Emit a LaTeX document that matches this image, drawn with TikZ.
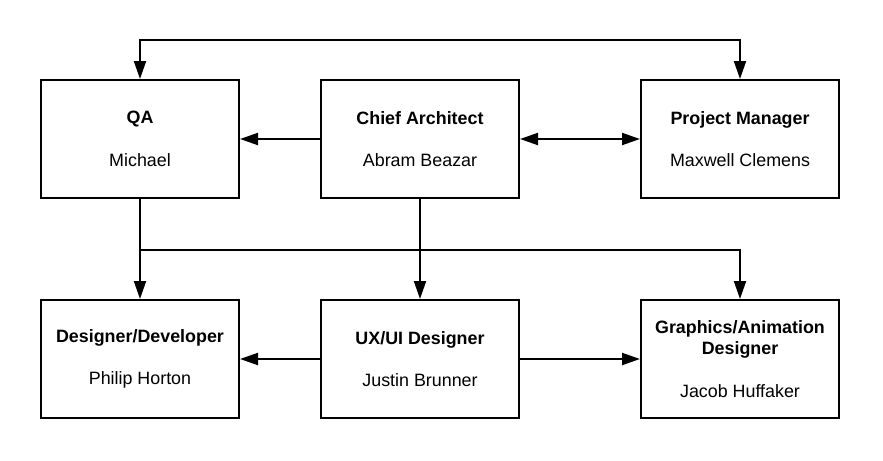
\documentclass[tikz,border=0pt]{standalone}
\usepackage{fontspec}
\setmainfont{Liberation Sans}
\usetikzlibrary{arrows.meta}
\begin{document}
\begin{tikzpicture}[x=0.75pt,y=-0.75pt,
  box/.style={draw, line width=1.5pt, minimum width=148.5pt, minimum height=88.5pt,
    inner sep=0pt, align=center, font=\fontsize{13.4}{16}\selectfont},
  conn/.style={line width=1.5pt, -{Triangle[length=13.5pt,width=9pt]}},
  conn2/.style={line width=1.5pt, {Triangle[length=13.5pt,width=9pt]}-{Triangle[length=13.5pt,width=9pt]}}]
\useasboundingbox (0,0) rectangle (883,461);
\node[box] (qa) at (140,139) {\textbf{QA}\\[16pt]Michael};
\node[box] (ca) at (420,139) {\textbf{Chief Architect}\\[16pt]Abram Beazar};
\node[box] (pm) at (740,139) {\textbf{Project Manager}\\[16pt]Maxwell Clemens};
\node[box] (dd) at (140,359) {\textbf{Designer/Developer}\\[16pt]Philip Horton};
\node[box] (ux) at (420,359) {\textbf{UX/UI Designer}\\[16pt]Justin Brunner};
\node[box] (ga) at (740,359) {\textbf{Graphics/Animation}\\\textbf{Designer}\\[16pt]Jacob Huffaker};
\coordinate (t1) at (140,40);
\coordinate (t2) at (740,40);
\coordinate (j1) at (140,250);
\coordinate (j2) at (740,250);
\draw[conn2] (qa.north) -- (t1) -- (t2) -- (pm.north);
\draw[conn] (ca.west) -- (qa.east);
\draw[conn2] (ca.east) -- (pm.west);
\draw[conn] (qa.south) -- (dd.north);
\draw[conn] (ca.south) -- (ux.north);
\draw[conn] (j1) -- (j2) -- (ga.north);
\draw[conn] (ux.west) -- (dd.east);
\draw[conn] (ux.east) -- (ga.west);
\end{tikzpicture}
\end{document}
